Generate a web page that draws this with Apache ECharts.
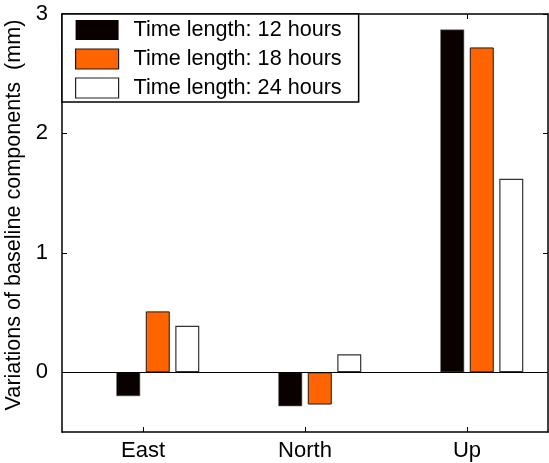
<!DOCTYPE html>
<html>
<head>
<meta charset="utf-8">
<script src="https://cdn.jsdelivr.net/npm/echarts@6/dist/echarts.min.js"></script>
<style>html,body{margin:0;padding:0;background:#fff;}#c{width:549px;height:463px;}</style>
</head>
<body>
<div id="c"></div>
<script>
const categories = ['East', 'North', 'Up'];
const seriesNames = ['Time length: 12 hours', 'Time length: 18 hours', 'Time length: 24 hours'];
const values12h = [-0.20, -0.285, 2.87];
const values18h = [0.51, -0.27, 2.72];
const values24h = [0.39, 0.15, 1.62];
const yTickValues = [0, 1, 2, 3];
const yMin = -0.5, yMax = 3;
// empty slot to the left of each group (the groups sit right of the ticks in the original)
const spacerSlot = [null, null, null];

const FONT = 'Liberation Sans, Arial, sans-serif';
const chart = echarts.init(document.getElementById('c'), null, {renderer: 'canvas'});

const barBase = {type: 'bar', barWidth: 24, barGap: '23%', xAxisIndex: 0, yAxisIndex: 0};
const styles = [
  {color: '#0b0000', borderColor: '#777', borderWidth: 0.6},
  {color: '#ff6400', borderColor: '#1a1a1a', borderWidth: 1},
  {color: '#ffffff', borderColor: '#333', borderWidth: 1.2}
];

chart.setOption({
  animation: false,
  backgroundColor: '#fff',
  grid: {left: 62, right: 1, top: 14, bottom: 31, containLabel: false, outerBoundsMode: 'none'},
  legend: {
    data: [
      {name: seriesNames[0], itemStyle: {color: '#0b0000', borderWidth: 0}},
      {name: seriesNames[1], itemStyle: {color: '#ff6400', borderColor: '#1a1a1a', borderWidth: 1.2}},
      {name: seriesNames[2], itemStyle: {color: '#ffffff', borderColor: '#222', borderWidth: 1.2}}
    ],
    orient: 'vertical',
    left: 62, top: 14,
    itemWidth: 43, itemHeight: 20, itemGap: 7,
    padding: [5, 17, 3, 13],
    backgroundColor: '#fff',
    borderColor: '#000', borderWidth: 1.5,
    icon: 'rect',
    textStyle: {fontFamily: FONT, fontSize: 21.6, color: '#000', padding: [0, 0, 0, 10], lineHeight: 20}
  },
  xAxis: [
    {
      type: 'category', data: categories, position: 'bottom',
      axisLine: {show: true, onZero: false, lineStyle: {color: '#000', width: 1.5}},
      axisTick: {show: true, inside: true, alignWithLabel: true, length: 5, lineStyle: {color: '#000'}},
      axisLabel: {fontFamily: FONT, fontSize: 22, color: '#000', margin: 8},
      splitLine: {show: false}
    },
    {
      type: 'category', data: categories, position: 'top',
      axisLine: {show: true, onZero: false, lineStyle: {color: '#000', width: 1.5}},
      axisTick: {show: true, inside: true, alignWithLabel: true, length: 5, lineStyle: {color: '#000'}},
      axisLabel: {show: false},
      splitLine: {show: false}
    }
  ],
  yAxis: [
    {
      type: 'value', min: yMin, max: yMax, position: 'left',
      name: 'Variations of baseline components  (mm)',
      nameLocation: 'middle', nameGap: 31, nameRotate: 90,
      nameTextStyle: {fontFamily: FONT, fontSize: 21.6, color: '#000', padding: [0, 0, 0, 16]},
      axisLine: {show: true, onZero: false, lineStyle: {color: '#000', width: 1.5}},
      axisTick: {show: true, inside: true, length: 5, customValues: yTickValues, lineStyle: {color: '#000'}},
      axisLabel: {fontFamily: FONT, fontSize: 22, color: '#000', margin: 14, customValues: yTickValues},
      splitLine: {show: false}
    },
    {
      type: 'value', min: yMin, max: yMax, position: 'right',
      axisLine: {show: true, onZero: false, lineStyle: {color: '#000', width: 1.5}},
      axisTick: {show: true, inside: true, length: 5, customValues: yTickValues, lineStyle: {color: '#000'}},
      axisLabel: {show: false},
      splitLine: {show: false}
    }
  ],
  series: [
    Object.assign({}, barBase, {name: 'spacer', data: spacerSlot, itemStyle: {color: 'transparent'}, silent: true}),
    Object.assign({}, barBase, {
      name: seriesNames[0], data: values12h, itemStyle: styles[0],
      markLine: {
        silent: true, symbol: 'none', label: {show: false},
        lineStyle: {color: '#000', width: 1.2, type: 'solid'},
        data: [{yAxis: 0}]
      }
    }),
    Object.assign({}, barBase, {name: seriesNames[1], data: values18h, itemStyle: styles[1]}),
    Object.assign({}, barBase, {name: seriesNames[2], data: values24h, itemStyle: styles[2]})
  ]
});
</script>
</body>
</html>
